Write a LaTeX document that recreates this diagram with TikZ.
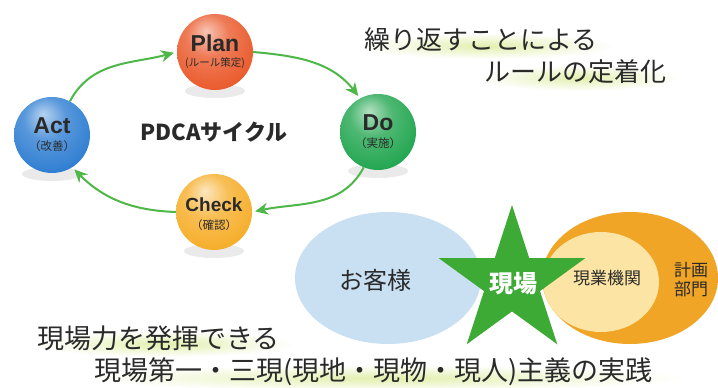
\documentclass[tikz,border=0pt]{standalone}
\usepackage{fontspec}
\newfontfamily\jp{Noto Sans CJK JP}
\newfontfamily\lat{Liberation Sans}
\usetikzlibrary{arrows.meta}
\definecolor{planc}{HTML}{EA5A2C}
\definecolor{actc}{HTML}{2F7ED2}
\definecolor{doc}{HTML}{22A650}
\definecolor{checkc}{HTML}{F6AE2A}
\definecolor{arrowc}{HTML}{4DB848}
\definecolor{starc}{HTML}{3DAA35}
\definecolor{bluec}{HTML}{C8E0F2}
\definecolor{orangec}{HTML}{F0A526}
\definecolor{palec}{HTML}{FCE4A4}
\definecolor{txt}{HTML}{2A2A2A}
\definecolor{glowc}{HTML}{E2EFAE}
\pgfdeclareradialshading{ballplan}{\pgfpoint{-6bp}{14bp}}{color(0bp)=(planc!35!white); color(14bp)=(planc!80!white); color(32bp)=(planc); color(52bp)=(planc!80!black); color(60bp)=(planc!75!black)}
\pgfdeclareradialshading{ballact}{\pgfpoint{-6bp}{14bp}}{color(0bp)=(actc!35!white); color(14bp)=(actc!80!white); color(32bp)=(actc); color(52bp)=(actc!80!black); color(60bp)=(actc!75!black)}
\pgfdeclareradialshading{balldo}{\pgfpoint{-6bp}{14bp}}{color(0bp)=(doc!35!white); color(14bp)=(doc!80!white); color(32bp)=(doc); color(52bp)=(doc!80!black); color(60bp)=(doc!75!black)}
\pgfdeclareradialshading{ballcheck}{\pgfpoint{-6bp}{14bp}}{color(0bp)=(checkc!30!white); color(14bp)=(checkc!80!white); color(32bp)=(checkc); color(52bp)=(checkc!88!black); color(60bp)=(checkc!85!black)}
\begin{document}
\begin{tikzpicture}[x=1pt,y=1pt,
  ballnode/.style={circle, minimum size=76pt, inner sep=0pt},
  balltitle/.style={text=txt, inner sep=0pt, font=\lat\bfseries\fontsize{23}{23}\selectfont},
  ballsub/.style={text=txt, inner sep=0pt, font=\jp\fontsize{11.5}{12}\selectfont},
  cyc/.style={draw=arrowc, line width=2pt, shorten >=3pt, -{Stealth[length=13pt,width=12pt]}},
  bigtxt/.style={anchor=west, text=txt, inner sep=0pt, font=\jp\fontsize{26}{26}\selectfont},
  midtxt/.style={text=txt, inner sep=0pt, font=\jp\fontsize{17}{19}\selectfont, align=center},
  shadowblob/.style={fill=gray!40, opacity=0.4},
  glow/.style={inner color=glowc, outer color=white}]
\useasboundingbox (0,0) rectangle (718,388);
\fill[white] (0,0) rectangle (718,388);
% glows under texts
\shade[glow] (487,342) ellipse (128 and 13);
\shade[glow] (580,310) ellipse (100 and 13);
\shade[glow] (165,44) ellipse (132 and 13);
\shade[glow] (385,10) ellipse (300 and 13);
% shadows under balls
\fill[shadowblob] (215,297) ellipse (30 and 7);
\fill[shadowblob] (52,214) ellipse (30 and 7);
\fill[shadowblob] (378,217) ellipse (30 and 7);
\fill[shadowblob] (214,137) ellipse (30 and 7);
% balls
\node[ballnode, shading=ballplan] (plan) at (215,336) {};
\node[ballnode, shading=ballact] (act) at (52,253) {};
\node[ballnode, shading=balldo] (do) at (378,256) {};
\node[ballnode, shading=ballcheck] (check) at (214,176) {};
\node[balltitle] (planT) at ([yshift=9pt]plan.center) {Plan};
\node[ballsub, font=\jp\fontsize{10.5}{11}\selectfont] (planS) at ([yshift=-11pt]plan.center) {(ルール策定)};
\node[balltitle] (actT) at ([yshift=9pt]act.center) {Act};
\node[ballsub] (actS) at ([yshift=-11pt]act.center) {（改善）};
\node[balltitle] (doT) at ([yshift=9pt]do.center) {Do};
\node[ballsub] (doS) at ([yshift=-11pt]do.center) {（実施）};
\node[balltitle, font=\lat\bfseries\fontsize{19}{19}\selectfont] (checkT) at ([yshift=7pt]check.center) {Check};
\node[ballsub] (checkS) at ([yshift=-13pt]check.center) {（確認）};
\node[text=txt, font=\jp\bfseries\fontsize{22}{22}\selectfont] (pdca) at (214,256) {PDCAサイクル};
% cycle arrows
\draw[cyc] (act.62) to[out=62,in=195] (plan.west);
\draw[cyc] (plan.east) to[out=-5,in=128] (do.118);
\draw[cyc] (do.-112) to[out=-118,in=12] (check.east);
\draw[cyc] (check.west) to[out=178,in=-45] (act.-58);
% top right text
\node[bigtxt] (t1) at (364,348) {繰り返すことによる};
\node[bigtxt] (t2) at (484,316) {ルールの定着化};
% ellipses
\fill[bluec] (388,110) ellipse (93 and 66);
\fill[orangec] (630,110) ellipse (88 and 66);
\fill[palec] (601,106) ellipse (58 and 50);
% star
\coordinate (sc) at (512,106);
\fill[starc] ([shift={(sc)}]90:77) -- ([shift={(sc)}]126:29.4)
  -- ([shift={(sc)}]162:77) -- ([shift={(sc)}]198:29.4)
  -- ([shift={(sc)}]234:77) -- ([shift={(sc)}]270:29.4)
  -- ([shift={(sc)}]306:77) -- ([shift={(sc)}]342:29.4)
  -- ([shift={(sc)}]18:77) -- ([shift={(sc)}]54:29.4) -- cycle;
\node[text=txt, inner sep=0pt, font=\jp\fontsize{24}{24}\selectfont] (cust) at (375,108) {お客様};
\node[text=white, inner sep=0pt, font=\jp\bfseries\fontsize{24}{24}\selectfont] (genba) at (513,104) {現場};
\node[midtxt] (gyo) at (607,110) {現業機関};
\node[midtxt] (keikaku) at (691,108) {計画\\部門};
% bottom text
\node[bigtxt, font=\jp\fontsize{27}{27}\selectfont] (b1) at (37,50) {現場力を発揮できる};
\node[bigtxt, font=\jp\fontsize{27}{27}\selectfont] (b2) at (94,16) {現場第一・三現(現地・現物・現人)主義の実践};
\end{tikzpicture}
\end{document}
